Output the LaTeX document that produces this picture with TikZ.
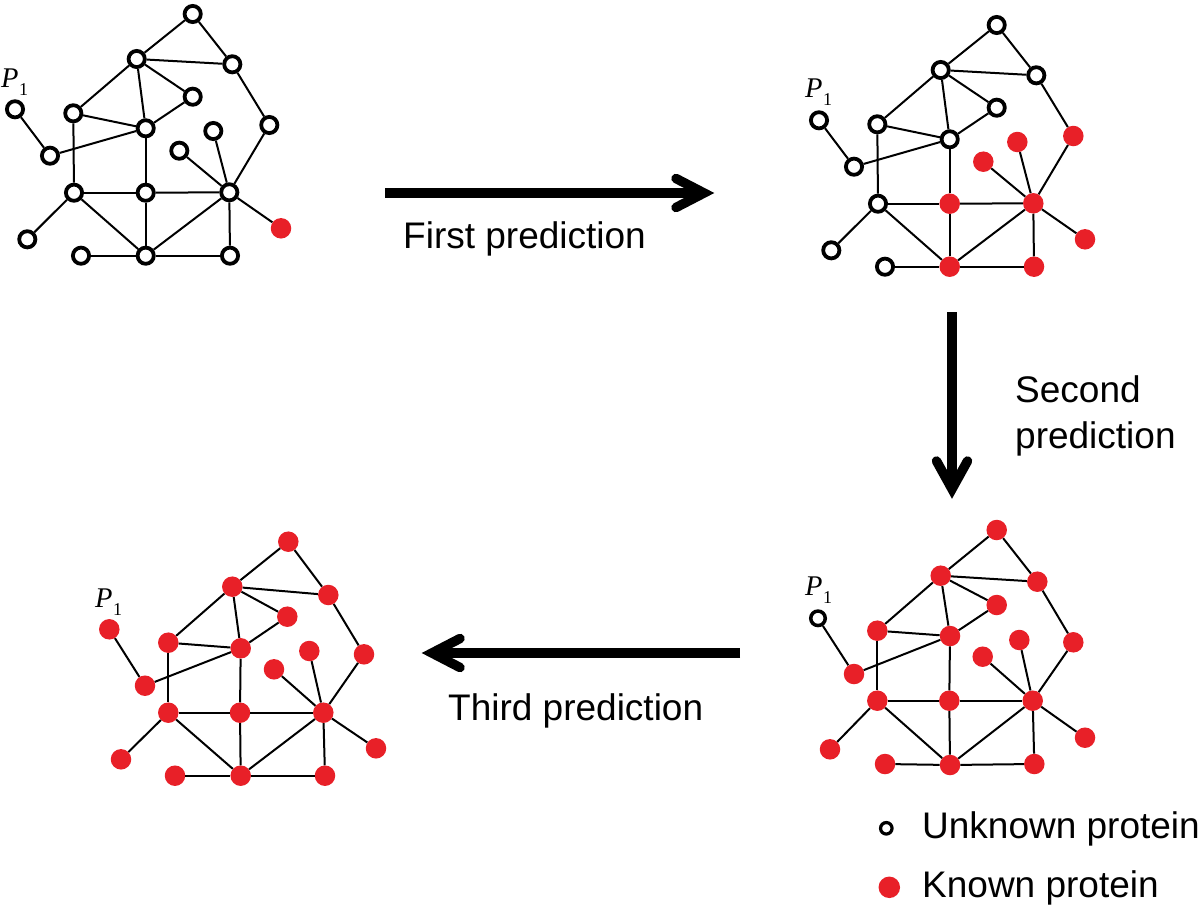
\documentclass[tikz,border=0pt]{standalone}
\usepackage{fontspec}
\setmainfont{Liberation Sans}
\newfontfamily\tms{Liberation Serif}
\usetikzlibrary{calc}
\definecolor{protred}{RGB}{232,32,40}
\newcommand\graphedges[1]{%
  \foreach \u/\v in {a/b,a/c,b/c,b/e,b/f,b/d,d/f,e/f,e/k,x/j,j/f,c/g,g/m,h/m,i/m,k/l,k/o,k/q,l/f,l/m,l/q,m/n,m/q,m/r,p/q,q/r}
    {\draw[edge] (#1\u) -- (#1\v);}}
\newcommand\pone{P\kern0.5pt\raisebox{-8pt}{\upshape\fontsize{18}{18}\selectfont 1}}
\begin{document}
\begin{tikzpicture}[x=1pt,y=-1pt,
  unk/.style={circle, draw=black, line width=3.8pt, fill=white, minimum size=16.2pt, inner sep=0pt},
  kn/.style={circle, fill=protred, minimum size=20.5pt, inner sep=0pt},
  unks/.style={unk, line width=3.5pt, minimum size=14.5pt},
  edge/.style={line width=2pt},
  lab/.style={font=\fontsize{37}{44}\selectfont, anchor=base west, inner sep=0pt},
  plab/.style={anchor=base west, inner sep=0pt, font=\tms\fontsize{28.5}{30}\selectfont\itshape},
  shaft/.style={line width=9.5pt},
  head/.style={line width=9.5pt, line cap=round, line join=miter}]
\useasboundingbox (0,0) rectangle (1200,905);

% ---------- Graph 1 ----------
\node[unk] (A-a) at (192.7,14) {};
\node[unk] (A-b) at (136.7,59) {};
\node[unk] (A-c) at (232.3,64.3) {};
\node[unk] (A-d) at (192.7,96.7) {};
\node[unk] (A-x) at (15,109.3) {};
\node[unk] (A-e) at (73.3,113.3) {};
\node[unk] (A-f) at (145.7,128.3) {};
\node[unk] (A-g) at (269.3,125) {};
\node[unk] (A-h) at (213.3,131) {};
\node[unk] (A-i) at (179.3,150.7) {};
\node[unk] (A-j) at (50,155.7) {};
\node[unk] (A-k) at (74,192.7) {};
\node[unk] (A-l) at (145.7,192.7) {};
\node[unk] (A-m) at (229.3,192.3) {};
\node[kn]  (A-n) at (281,228.3) {};
\node[unk] (A-o) at (27.3,239.3) {};
\node[unk] (A-p) at (81,255.7) {};
\node[unk] (A-q) at (145.7,255.7) {};
\node[unk] (A-r) at (230,255.7) {};
\graphedges{A-}
\node[plab] (A-lab) at (1,87) {\pone};

% ---------- Graph 2 ----------
\begin{scope}[shift={(804,11)}]
\node[unk] (B-a) at (192.7,14) {};
\node[unk] (B-b) at (136.7,59) {};
\node[unk] (B-c) at (232.3,64.3) {};
\node[unk] (B-d) at (192.7,96.7) {};
\node[unk] (B-x) at (15,109.3) {};
\node[unk] (B-e) at (73.3,113.3) {};
\node[unk] (B-f) at (145.7,128.3) {};
\node[kn]  (B-g) at (269.3,125) {};
\node[kn]  (B-h) at (213.3,131) {};
\node[kn]  (B-i) at (179.3,150.7) {};
\node[unk] (B-j) at (50,155.7) {};
\node[unk] (B-k) at (74,192.7) {};
\node[kn]  (B-l) at (145.7,192.7) {};
\node[kn]  (B-m) at (229.3,192.3) {};
\node[kn]  (B-n) at (281,228.3) {};
\node[unk] (B-o) at (27.3,239.3) {};
\node[unk] (B-p) at (81,255.7) {};
\node[kn]  (B-q) at (145.7,255.7) {};
\node[kn]  (B-r) at (230,255.7) {};
\graphedges{B-}
\node[plab] (B-lab) at (1,86) {\pone};
\end{scope}

% ---------- Graph 3 ----------
\node[kn]  (C-a) at (996.7,530) {};
\node[kn]  (C-b) at (940.7,575.7) {};
\node[kn]  (C-c) at (1037.3,581.7) {};
\node[kn]  (C-d) at (996.7,605) {};
\node[unks] (C-x) at (818,618.3) {};
\node[kn]  (C-e) at (877.3,630.7) {};
\node[kn]  (C-f) at (950,636) {};
\node[kn]  (C-g) at (1073.3,642.3) {};
\node[kn]  (C-h) at (1019.3,640) {};
\node[kn]  (C-i) at (982.7,656.7) {};
\node[kn]  (C-j) at (854,674) {};
\node[kn]  (C-k) at (877.3,700.7) {};
\node[kn]  (C-l) at (949.3,700.7) {};
\node[kn]  (C-m) at (1032.7,700.7) {};
\node[kn]  (C-n) at (1085,737.7) {};
\node[kn]  (C-o) at (830,749.3) {};
\node[kn]  (C-p) at (885,764) {};
\node[kn]  (C-q) at (950,765) {};
\node[kn]  (C-r) at (1034.3,764) {};
\graphedges{C-}
\node[plab] (C-lab) at (805,595) {\pone};

% ---------- Graph 4 ----------
\node[kn] (D-a) at (288.3,541.7) {};
\node[kn] (D-b) at (232.3,586.7) {};
\node[kn] (D-c) at (328.3,595) {};
\node[kn] (D-d) at (287.3,616.7) {};
\node[kn] (D-x) at (109.3,629.3) {};
\node[kn] (D-e) at (168.3,642.7) {};
\node[kn] (D-f) at (240.7,648.3) {};
\node[kn] (D-g) at (364,654.3) {};
\node[kn] (D-h) at (309.3,651) {};
\node[kn] (D-i) at (274,669.3) {};
\node[kn] (D-j) at (145,685.7) {};
\node[kn] (D-k) at (168.3,712.7) {};
\node[kn] (D-l) at (240,712.7) {};
\node[kn] (D-m) at (323.3,712.7) {};
\node[kn] (D-n) at (376,748.3) {};
\node[kn] (D-o) at (121,759.3) {};
\node[kn] (D-p) at (175,775.7) {};
\node[kn] (D-q) at (240.7,775.7) {};
\node[kn] (D-r) at (325,775.7) {};
\graphedges{D-}
\node[plab] (D-lab) at (95,607) {\pone};

% ---------- Arrows ----------
\coordinate (r1s) at (385,193);
\coordinate (r1e) at (704,193);
\draw[shaft] (r1s) -- ($(r1e)+(-3,0)$);
\draw[head] ($(r1e)+(-28,-14.5)$) -- (r1e) -- ($(r1e)+(-28,14.5)$);

\coordinate (r2s) at (952,312);
\coordinate (r2e) at (952,489);
\draw[shaft] (r2s) -- ($(r2e)+(0,-3)$);
\draw[head] ($(r2e)+(-15.5,-28)$) -- (r2e) -- ($(r2e)+(15.5,-28)$);

\coordinate (r3s) at (740,653);
\coordinate (r3e) at (432,653);
\draw[shaft] (r3s) -- ($(r3e)+(3,0)$);
\draw[head] ($(r3e)+(28,-14.5)$) -- (r3e) -- ($(r3e)+(28,14.5)$);

% ---------- Labels ----------
\node[lab] (t1) at (403,248) {First prediction};
\node[lab] (t2a) at (1015,402) {Second};
\node[lab] (t2b) at (1015,448) {prediction};
\node[lab] (t3) at (448,720) {Third prediction};

% ---------- Legend ----------
\node[unk, line width=3.2pt, minimum size=11.5pt] (lg1) at (886.3,828.3) {};
\node[lab] (lg1t) at (922,838) {Unknown protein};
\node[kn, minimum size=21.5pt] (lg2) at (889.3,887.3) {};
\node[lab] (lg2t) at (922,897) {Known protein};
\end{tikzpicture}
\end{document}
